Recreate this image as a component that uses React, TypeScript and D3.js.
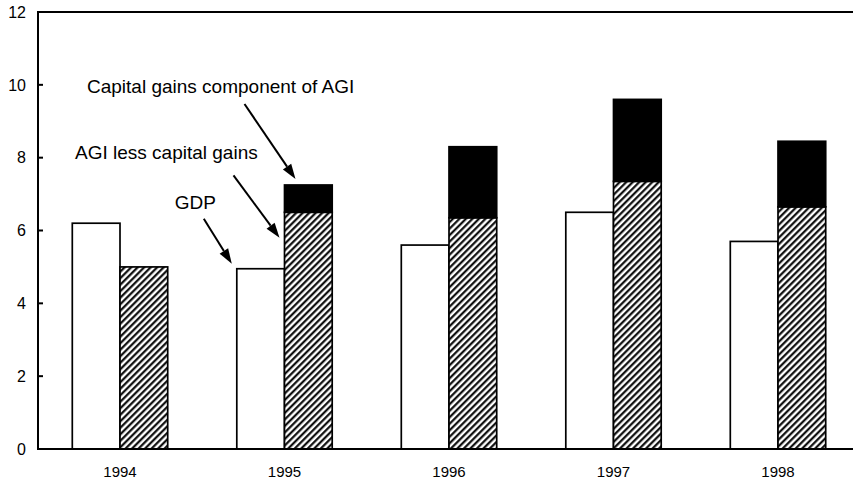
import React from 'react';
import * as d3 from 'd3';

// values (percent)
const years = ['1994', '1995', '1996', '1997', '1998'];
const gdp = [6.2, 4.95, 5.6, 6.5, 5.7];
const agiLessCapGains = [5.0, 6.5, 6.35, 7.35, 6.65];
const capGains = [0, 0.75, 1.95, 2.25, 1.8];
const yTicks = [0, 2, 4, 6, 8, 10, 12];
const seriesKeys = ['gdp', 'agi'];

const W = 853, H = 481;
const margin = { top: 12, left: 38, bottom: 32 };
const font = 'Liberation Sans, Arial, Helvetica, sans-serif';

const App: React.FC = () => {
  const y = d3.scaleLinear().domain([0, 12]).range([H - margin.bottom, margin.top]);
  const x = d3.scaleBand().domain(years).range([37.75, 860.25]).paddingInner(0.42).paddingOuter(0.21);
  const xs = d3.scaleBand().domain(seriesKeys).range([0, x.bandwidth()]);
  const bw = xs.bandwidth();
  const y0 = y(0);

  // annotation anchors, tied to the 1995 bars
  const gx = (x('1995') ?? 0);
  const hx = gx + (xs('agi') ?? 0);
  const arrows = [
    { from: [gx - 33, y(4.95) - 50], to: [gx - 5, y(4.95) - 5] },
    { from: [hx - 51, y(6.5) - 37], to: [hx - 5, y(5.8)] },
    { from: [hx - 40, y(7.25) - 81], to: [hx + 11, y(7.25) - 6] },
  ];
  const labels = [
    { text: 'GDP', x: gx - 62, y: 209 },
    { text: 'AGI less capital gains', x: 75, y: 159 },
    { text: 'Capital gains component of AGI', x: 87, y: 93 },
  ];

  const arrowHead = (a: { from: number[]; to: number[] }) => {
    const [x1, y1] = a.from, [x2, y2] = a.to;
    const ang = Math.atan2(y2 - y1, x2 - x1);
    const len = 15, half = 5;
    const bx = x2 - len * Math.cos(ang), by = y2 - len * Math.sin(ang);
    const px = -Math.sin(ang) * half, py = Math.cos(ang) * half;
    return { line: [x1, y1, bx, by], pts: `${x2},${y2} ${bx + px},${by + py} ${bx - px},${by - py}` };
  };

  return (
    <svg width={W} height={H} style={{ position: 'absolute', left: 0, top: 0, background: '#fff' }}>
      <defs>
        <pattern id="hatch" patternUnits="userSpaceOnUse" width={4.6} height={4.6} patternTransform="rotate(45)">
          <rect width={4.6} height={4.6} fill="#fff" />
          <line x1={1.2} y1={0} x2={1.2} y2={4.6} stroke="#000" strokeWidth={2.1} />
        </pattern>
      </defs>

      {/* bars */}
      {years.map((yr, i) => {
        const gX = (x(yr) ?? 0) + (xs('gdp') ?? 0);
        const aX = (x(yr) ?? 0) + (xs('agi') ?? 0);
        const topAgi = agiLessCapGains[i] + capGains[i];
        return (
          <g key={yr}>
            <rect x={gX} y={y(gdp[i])} width={bw} height={y0 - y(gdp[i])} fill="#fff" stroke="#000" strokeWidth={1.7} />
            <rect x={aX} y={y(agiLessCapGains[i])} width={bw} height={y0 - y(agiLessCapGains[i])} fill="url(#hatch)" stroke="#000" strokeWidth={1.7} />
            {capGains[i] > 0 && (
              <rect x={aX} y={y(topAgi)} width={bw} height={y(agiLessCapGains[i]) - y(topAgi)} fill="#000" stroke="#000" strokeWidth={1.7} />
            )}
          </g>
        );
      })}

      {/* frame */}
      <line x1={margin.left} x2={W} y1={y(12)} y2={y(12)} stroke="#000" strokeWidth={2} />
      <line x1={margin.left} x2={W} y1={y0} y2={y0} stroke="#000" strokeWidth={2} />
      <line x1={margin.left} x2={margin.left} y1={y(12) - 1} y2={y0 + 1} stroke="#000" strokeWidth={2} />

      {/* y ticks */}
      {yTicks.map(t => (
        <g key={t}>
          <line x1={margin.left} x2={margin.left + 5} y1={y(t)} y2={y(t)} stroke="#000" strokeWidth={2} />
          <text x={26} y={y(t)} dy="0.36em" textAnchor="end" fontFamily={font} fontSize={16}>{t}</text>
        </g>
      ))}

      {/* x labels */}
      {years.map(yr => (
        <text key={yr} x={(x(yr) ?? 0) + x.bandwidth() / 2} y={y0 + 28} textAnchor="middle" fontFamily={font} fontSize={15}>{yr}</text>
      ))}

      {/* annotations */}
      {labels.map(l => (
        <text key={l.text} x={l.x} y={l.y} fontFamily={font} fontSize={19}>{l.text}</text>
      ))}
      {arrows.map((a, i) => {
        const h = arrowHead(a);
        return (
          <g key={i}>
            <line x1={h.line[0]} y1={h.line[1]} x2={h.line[2]} y2={h.line[3]} stroke="#000" strokeWidth={2} />
            <polygon points={h.pts} fill="#000" />
          </g>
        );
      })}
    </svg>
  );
};

export default App;
